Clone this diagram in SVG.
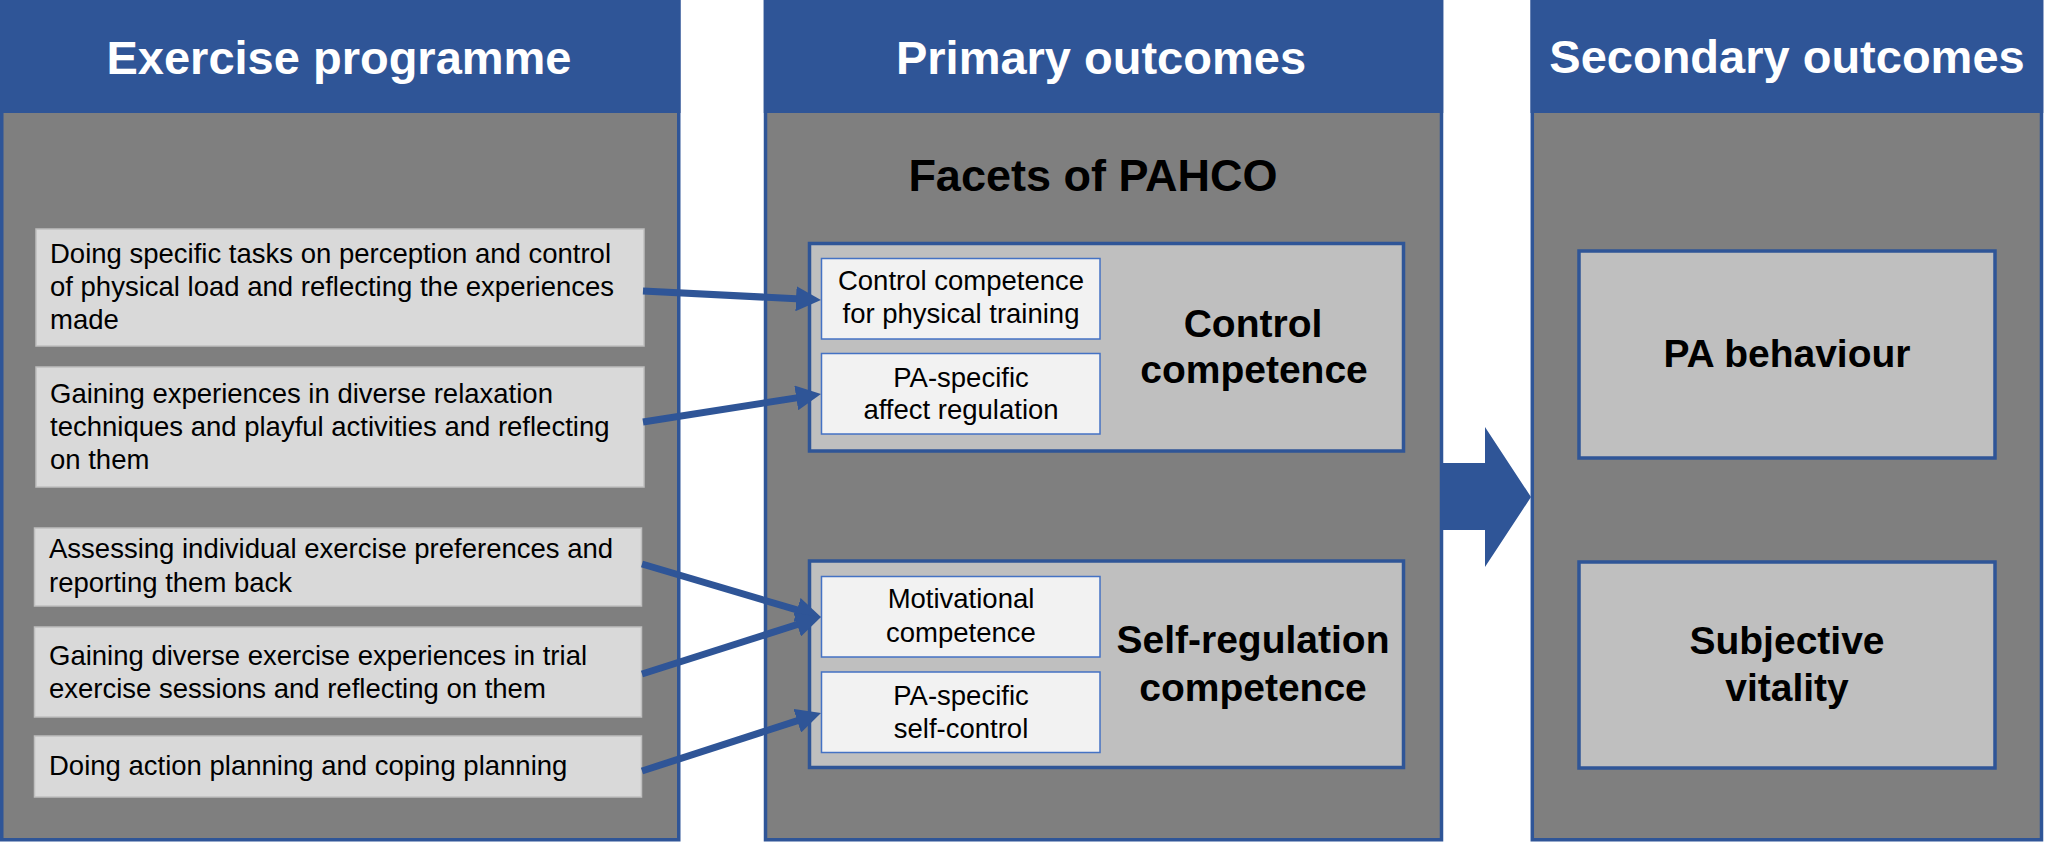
<svg xmlns="http://www.w3.org/2000/svg" width="2056" height="843" viewBox="0 0 2056 843">
<style>
text{font-family:"Liberation Sans",Arial,sans-serif;}
.col{fill:#7F7F7F;stroke:#2F5597;stroke-width:3.5;}
.hdr{fill:#2F5597;}
.htxt{font-size:47px;font-weight:bold;fill:#FFFFFF;text-anchor:middle;}
.item{fill:#D9D9D9;stroke:#BFBFBF;stroke-width:1.5;}
.itxt{font-size:27.5px;fill:#000000;}
.comp{fill:#BFBFBF;stroke:#2F5597;stroke-width:3.5;}
.sub{fill:#F2F2F2;stroke:#4472C4;stroke-width:1.5;}
.stxt{font-size:27.5px;fill:#000000;text-anchor:middle;}
.btxt{font-size:39px;font-weight:bold;fill:#000000;text-anchor:middle;}
.conn{stroke:#2F5597;stroke-width:7;fill:none;marker-end:url(#ah);}
</style>
<defs>
<marker id="ah" markerUnits="userSpaceOnUse" markerWidth="25" markerHeight="25" refX="15" refY="12.5" orient="auto">
<path d="M0,0 L25,12.5 L0,25 z" fill="#2F5597"/>
</marker>
</defs>
<rect width="2056" height="843" fill="#FFFFFF"/>

<g id="col-exercise">
<rect class="col" x="1.75" y="1.75" width="677" height="838"/>
<rect class="hdr" x="0" y="0" width="680.5" height="113"/>
<text class="htxt" x="339" y="74">Exercise programme</text>
</g>

<g id="col-primary">
<rect class="col" x="765.5" y="1.75" width="676" height="838"/>
<rect class="hdr" x="763.75" y="0" width="679.5" height="113"/>
<text class="htxt" x="1101" y="74">Primary outcomes</text>
<text x="1093" y="191" style="font-size:45px;font-weight:bold;text-anchor:middle;">Facets of PAHCO</text>
</g>

<g id="col-secondary">
<rect class="col" x="1532.3" y="1.75" width="509.2" height="838"/>
<rect class="hdr" x="1530.5" y="0" width="512.8" height="113"/>
<text class="htxt" x="1787" y="73">Secondary outcomes</text>
</g>

<g id="item1">
<rect class="item" x="36" y="229" width="608" height="117"/>
<text class="itxt" x="50" y="263">Doing specific tasks on perception and control</text>
<text class="itxt" x="50" y="296">of physical load and reflecting the experiences</text>
<text class="itxt" x="50" y="329">made</text>
</g>
<g id="item2">
<rect class="item" x="36" y="367" width="608" height="120"/>
<text class="itxt" x="50" y="403">Gaining experiences in diverse relaxation</text>
<text class="itxt" x="50" y="436">techniques and playful activities and reflecting</text>
<text class="itxt" x="50" y="469">on them</text>
</g>
<g id="item3">
<rect class="item" x="34.5" y="528" width="607" height="78"/>
<text class="itxt" x="49" y="558">Assessing individual exercise preferences and</text>
<text class="itxt" x="49" y="592">reporting them back</text>
</g>
<g id="item4">
<rect class="item" x="34.5" y="627" width="607" height="90"/>
<text class="itxt" x="49" y="665">Gaining diverse exercise experiences in trial</text>
<text class="itxt" x="49" y="698">exercise sessions and reflecting on them</text>
</g>
<g id="item5">
<rect class="item" x="34.5" y="736" width="607" height="61"/>
<text class="itxt" x="49" y="775">Doing action planning and coping planning</text>
</g>

<g id="control-competence">
<rect class="comp" x="809.5" y="243.5" width="594" height="207.5"/>
<text class="btxt" x="1253" y="337">Control</text>
<text class="btxt" x="1254" y="383">competence</text>
</g>
<g id="control-training">
<rect class="sub" x="821.5" y="258.5" width="278.5" height="80.5"/>
<text class="stxt" x="961" y="290">Control competence</text>
<text class="stxt" x="961" y="323">for physical training</text>
</g>
<g id="affect-regulation">
<rect class="sub" x="821.5" y="353.5" width="278.5" height="80.5"/>
<text class="stxt" x="961" y="387">PA-specific</text>
<text class="stxt" x="961" y="419">affect regulation</text>
</g>

<g id="self-regulation-competence">
<rect class="comp" x="809.5" y="561" width="594" height="206.5"/>
<text class="btxt" x="1253" y="653">Self-regulation</text>
<text class="btxt" x="1253" y="701">competence</text>
</g>
<g id="motivational">
<rect class="sub" x="821.5" y="576.5" width="278.5" height="80.5"/>
<text class="stxt" x="961" y="608">Motivational</text>
<text class="stxt" x="961" y="642">competence</text>
</g>
<g id="self-control">
<rect class="sub" x="821.5" y="672" width="278.5" height="80.5"/>
<text class="stxt" x="961" y="705">PA-specific</text>
<text class="stxt" x="961" y="738">self-control</text>
</g>

<g id="pa-behaviour">
<rect class="comp" x="1579" y="251" width="416" height="207"/>
<text class="btxt" x="1787" y="367">PA behaviour</text>
</g>
<g id="subjective-vitality">
<rect class="comp" x="1579" y="562" width="416" height="206"/>
<text class="btxt" x="1787" y="654">Subjective</text>
<text class="btxt" x="1787" y="701">vitality</text>
</g>

<g id="connectors">
<line class="conn" x1="643" y1="291" x2="811" y2="299.5"/>
<line class="conn" x1="643" y1="422" x2="811.1" y2="395.6"/>
<line class="conn" x1="642" y1="564" x2="811.4" y2="614.2"/>
<line class="conn" x1="642" y1="674" x2="811.5" y2="620"/>
<line class="conn" x1="642" y1="771" x2="811.5" y2="716.1"/>
<polygon points="1443,463 1485,463 1485,427 1531,497 1485,567 1485,530 1443,530" fill="#2F5597"/>
</g>
</svg>
